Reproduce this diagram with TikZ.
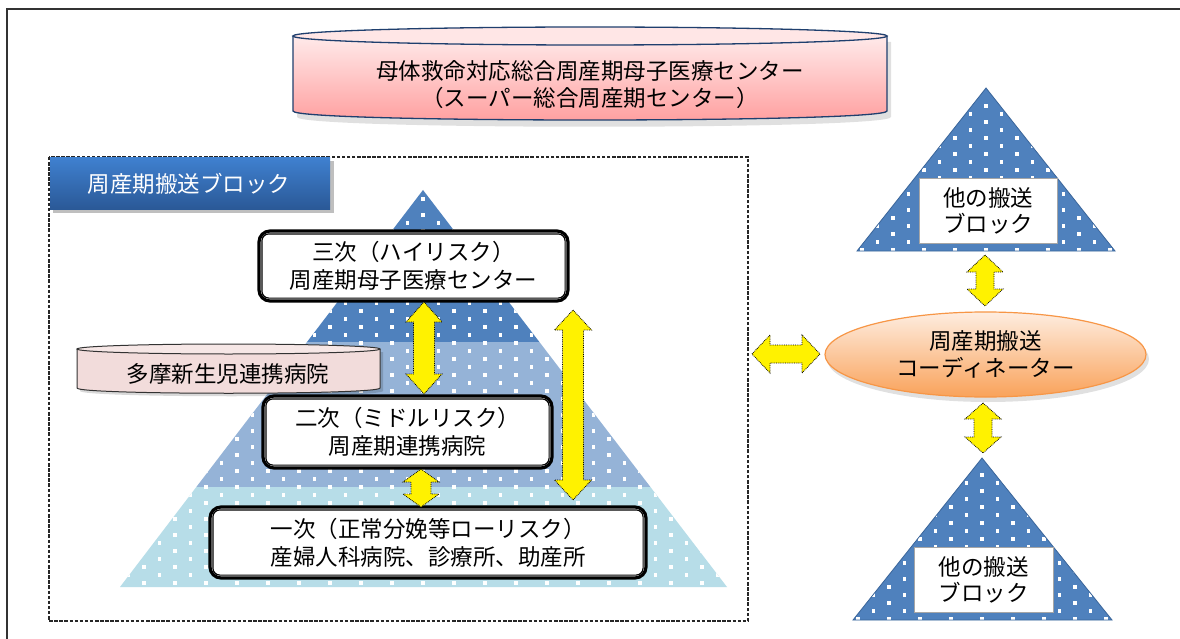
\documentclass[tikz,border=0pt]{standalone}
\usepackage{fontspec}
\newfontfamily\jp{Noto Sans CJK JP}
\usetikzlibrary{shapes.geometric,calc}
\definecolor{triblue}{HTML}{4F81BD}
\definecolor{midblue}{HTML}{95B3D7}
\definecolor{lightblue}{HTML}{B7DDE8}
\definecolor{triedge}{HTML}{3A659A}
\definecolor{pinkA}{HTML}{FFEAEA}
\definecolor{pinkB}{HTML}{FF9E9E}
\definecolor{pinktop}{HTML}{FFE6E6}
\definecolor{cyledge}{HTML}{1F3F6E}
\definecolor{palepink}{HTML}{F2DCDB}
\definecolor{orA}{HTML}{FEEDE0}
\definecolor{orB}{HTML}{F9A25A}
\definecolor{oredge}{HTML}{F79646}
\definecolor{tabA}{HTML}{3F80CF}
\definecolor{tabB}{HTML}{2A5896}
\newcommand\dotfield[4]{%
  \foreach \r in {0,...,#3}{%
    \pgfmathsetmacro\dotoff{mod(\r,2)*15.5}%
    \foreach \k in {-#4,...,#4}{%
      \fill[white] ({#1+\dotoff+31*\k-1.8},{#2+8*\r-1.8}) rectangle ++(3.6,3.6);
    }}}
\newcommand\yarrowv[5]{\draw[yarrow] let \p1=(#1), \p2=(#2) in
  (\x1,\y1) -- (\x1+#3pt,\y1-#5pt) -- (\x1+#4pt,\y1-#5pt) -- (\x1+#4pt,\y2+#5pt)
  -- (\x1+#3pt,\y2+#5pt) -- (\x1,\y2) -- (\x1-#3pt,\y2+#5pt) -- (\x1-#4pt,\y2+#5pt)
  -- (\x1-#4pt,\y1-#5pt) -- (\x1-#3pt,\y1-#5pt) -- cycle;}
\newcommand\yarrowh[5]{\draw[yarrow] let \p1=(#1), \p2=(#2) in
  (\x1,\y1) -- (\x1+#5pt,\y1+#3pt) -- (\x1+#5pt,\y1+#4pt) -- (\x2-#5pt,\y1+#4pt)
  -- (\x2-#5pt,\y1+#3pt) -- (\x2,\y1) -- (\x2-#5pt,\y1-#3pt) -- (\x2-#5pt,\y1-#4pt)
  -- (\x1+#5pt,\y1-#4pt) -- (\x1+#5pt,\y1-#3pt) -- cycle;}
\begin{document}
\begin{tikzpicture}[x=1pt,y=-1pt,
  txt/.style={font=\jp\fontsize{22.5}{27}\selectfont,align=center,inner sep=0pt},
  lvlbox/.style={draw=black,line width=3.2pt,fill=white,rounded corners=11pt,
    font=\jp\fontsize{22.5}{28}\selectfont,align=center,inner sep=0pt},
  inner/.style={draw=black,line width=1.2pt,rounded corners=7pt},
  yarrow/.style={fill=yellow,draw=black,line width=0.8pt,densely dotted},
  lbl/.style={draw=black!35,line width=0.8pt,fill=white,
    font=\jp\fontsize{22.5}{26}\selectfont,align=center,inner sep=0pt}]
\useasboundingbox (0,0) rectangle (1180,639);
\fill[white] (0,0) rectangle (1180,639);
% outer frame
\draw[line width=2pt,black!80] (1180,9) -- (7,9) -- (7,639);

% top cylinder
\fill[black,opacity=0.12] (297,42) -- (297,117) .. controls (297,130) and (891,130) .. (891,117) -- (891,42) -- cycle;
\shade[top color=pinkA,bottom color=pinkB] (293,36) -- (293,111) .. controls (293,123) and (887,123) .. (887,111) -- (887,36) -- cycle;
\draw[cyledge,line width=1.3pt] (293,36) -- (293,111) .. controls (293,123) and (887,123) .. (887,111) -- (887,36);
\fill[pinktop] (590,36) ellipse [x radius=297,y radius=9];
\draw[cyledge,line width=1.3pt] (590,36) ellipse [x radius=297,y radius=9];
\node[txt] (super) at (590,85) {母体救命対応総合周産期母子医療センター\\（スーパー総合周産期センター）};

% dashed block
\draw[black!85,line width=1.3pt,dash pattern=on 3.5pt off 1.6pt] (49,157) rectangle (748,621);
% title tab
\fill[black,opacity=0.25] (53,161) rectangle (334,213);
\shade[top color=tabA,bottom color=tabB] (50,158) rectangle (330,210);
\node[txt,text=white] (tab) at (189,184) {周産期搬送ブロック};

% pyramid
\begin{scope}
\clip (423,190) -- (727,587) -- (120,587) -- cycle;
\fill[lightblue] (100,487) rectangle (760,600);
\fill[midblue] (100,342) rectangle (760,487);
\fill[triblue] (100,180) rectangle (760,342);
\dotfield{423}{199}{49}{11}
\end{scope}

% small cylinder
\fill[black,opacity=0.15] (80,352) -- (80,391) .. controls (80,398) and (383,398) .. (383,391) -- (383,352) -- cycle;
\fill[palepink] (77,349) -- (77,388) .. controls (77,395) and (380,395) .. (380,388) -- (380,349) -- cycle;
\draw[black!80,line width=1pt] (77,349) -- (77,388) .. controls (77,395) and (380,395) .. (380,388) -- (380,349);
\fill[palepink!70!white] (228.5,349) ellipse [x radius=151.5,y radius=5];
\draw[black!80,line width=1pt] (228.5,349) ellipse [x radius=151.5,y radius=5];
\node[txt] (tama) at (228,374) {多摩新生児連携病院};

% level boxes
\node[lvlbox,minimum width=309pt,minimum height=70pt] (third) at (413.5,266) {三次（ハイリスク）\\周産期母子医療センター};
\draw[inner] ($(third.north west)+(4.5,4.5)$) rectangle ($(third.south east)+(-4.5,-4.5)$);
\node[lvlbox,minimum width=289pt,minimum height=72pt] (second) at (407.5,432) {二次（ミドルリスク）\\周産期連携病院};
\draw[inner] ($(second.north west)+(4.5,4.5)$) rectangle ($(second.south east)+(-4.5,-4.5)$);
\node[lvlbox,minimum width=436pt,minimum height=71pt] (first) at (428,542.5) {一次（正常分娩等ローリスク）\\産婦人科病院、診療所、助産所};
\draw[inner] ($(first.north west)+(4.5,4.5)$) rectangle ($(first.south east)+(-4.5,-4.5)$);

% right triangles
\fill[triblue] (986,88) -- (1115,251) -- (857,251) -- cycle;
\begin{scope}
\clip (986,88) -- (1115,251) -- (857,251) -- cycle;
\dotfield{986}{106}{19}{5}
\end{scope}
\draw[triedge,line width=0.8pt] (986,88) -- (1115,251) -- (857,251) -- cycle;
\node[lbl,minimum width=138pt,minimum height=65pt] (otherA) at (988,210.5) {他の搬送\\ブロック};

\fill[triblue] (982,458) -- (1112,620) -- (853,620) -- cycle;
\begin{scope}
\clip (982,458) -- (1112,620) -- (853,620) -- cycle;
\dotfield{982}{475}{19}{5}
\end{scope}
\draw[triedge,line width=0.8pt] (982,458) -- (1112,620) -- (853,620) -- cycle;
\node[lbl,minimum width=139pt,minimum height=65pt] (otherB) at (983.5,579.5) {他の搬送\\ブロック};

% coordinator ellipse
\fill[black,opacity=0.12] (988,359) ellipse [x radius=161,y radius=43];
\node[ellipse,draw=oredge,line width=1.2pt,top color=orA,bottom color=orB,
  minimum width=321pt,minimum height=85pt,inner sep=0pt,
  font=\jp\fontsize{22.5}{27}\selectfont,align=center] (coord) at (985.5,354.5) {周産期搬送\\コーディネーター};

% yellow arrows
\coordinate (a1t) at (424,302); \coordinate (a1b) at (424,394);
\coordinate (a2t) at (421,469); \coordinate (a2b) at (421,507);
\coordinate (a3t) at (573,310); \coordinate (a3b) at (573,500);
\coordinate (a4l) at (752,354); \coordinate (a4r) at (820,354);
\coordinate (a5t) at (985,255); \coordinate (a5b) at (985,306);
\coordinate (a6t) at (983,403); \coordinate (a6b) at (983,453);
\yarrowv{a1t}{a1b}{18}{10.5}{20}
\yarrowv{a2t}{a2b}{18}{10}{13}
\yarrowv{a3t}{a3b}{18.5}{10.5}{20}
\yarrowh{a4l}{a4r}{19}{9}{18}
\yarrowv{a5t}{a5b}{18}{9}{17}
\yarrowv{a6t}{a6b}{18}{9}{16}
\end{tikzpicture}
\end{document}
